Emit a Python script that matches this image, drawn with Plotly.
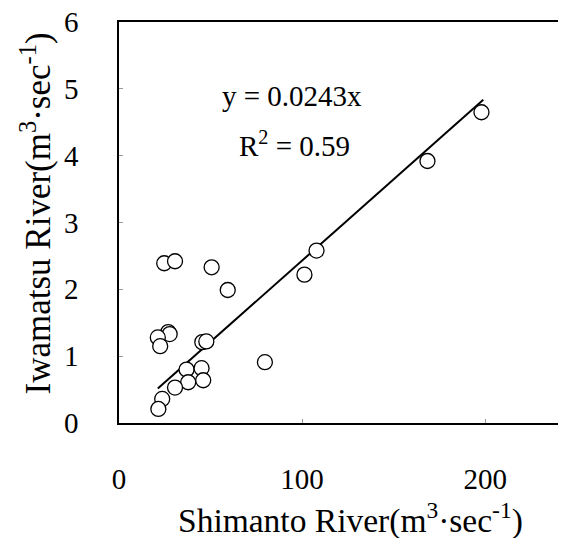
import plotly.graph_objects as go

# Data
shimanto = [198.0, 168.5, 107.9, 101.3, 24.7, 30.6, 50.6, 59.4, 26.9, 27.7, 21.2,
            22.5, 45.5, 47.7, 79.7, 36.9, 45.1, 37.8, 46.0, 30.6, 23.6, 21.5]
iwamatsu = [4.65, 3.92, 2.58, 2.22, 2.39, 2.42, 2.33, 1.99, 1.36, 1.33, 1.28,
            1.15, 1.21, 1.22, 0.91, 0.80, 0.82, 0.61, 0.64, 0.53, 0.36, 0.21]
slope = 0.0243
r2 = 0.59
x_ticks = [0, 100, 200]
y_ticks = [0, 1, 2, 3, 4, 5, 6]

FONT = "Liberation Serif, Times New Roman, serif"

line_x = [min(shimanto), max(shimanto) + 1]
line_y = [slope * v for v in line_x]

fig = go.Figure()
fig.add_trace(go.Scatter(
    x=line_x, y=line_y, mode="lines",
    line=dict(color="black", width=2), showlegend=False, hoverinfo="skip"))
fig.add_trace(go.Scatter(
    x=shimanto, y=iwamatsu, mode="markers",
    marker=dict(symbol="circle", size=15, color="white",
                line=dict(color="black", width=1.3)),
    showlegend=False))

fig.add_annotation(x=94.5, y=4.89, xref="x", yref="y",
                   text=f"y = {slope}x", showarrow=False,
                   font=dict(family=FONT, size=29, color="black"))
fig.add_annotation(x=96, y=4.17, xref="x", yref="y",
                   text=f"R<sup>2</sup> = {r2}", showarrow=False,
                   font=dict(family=FONT, size=29, color="black"))

fig.add_annotation(x=0.5, y=0, xref="paper", yref="paper",
                   xanchor="center", yanchor="middle", xshift=4, yshift=-95,
                   text="Shimanto River(m<sup>3</sup>·sec<sup>-1</sup>)",
                   showarrow=False,
                   font=dict(family=FONT, size=33.5, color="black"))
fig.add_annotation(x=0, y=0.5, xref="paper", yref="paper",
                   xanchor="center", yanchor="middle", xshift=-83, yshift=9,
                   textangle=-90,
                   text="Iwamatsu River(m<sup>3</sup>·sec<sup>-1</sup>)",
                   showarrow=False,
                   font=dict(family=FONT, size=35, color="black"))

axis_common = dict(
    showline=True, linecolor="black", linewidth=1.5, mirror=True,
    showgrid=False, zeroline=False, automargin=False,
    ticks="inside", ticklen=4, tickcolor="#999", tickwidth=1,
    ticklabeloverflow="allow",
    tickfont=dict(family=FONT, size=29, color="black"),
)

fig.update_layout(
    width=566, height=538,
    margin=dict(l=111, r=1, t=14, b=123),
    paper_bgcolor="white", plot_bgcolor="white",
    xaxis=dict(range=[0, 248], tickvals=x_ticks, ticklabelstandoff=29,
               **axis_common),
    yaxis=dict(range=[0, 6], tickvals=y_ticks, ticklabelstandoff=33,
               **axis_common),
)

fig.write_html("out.html")
